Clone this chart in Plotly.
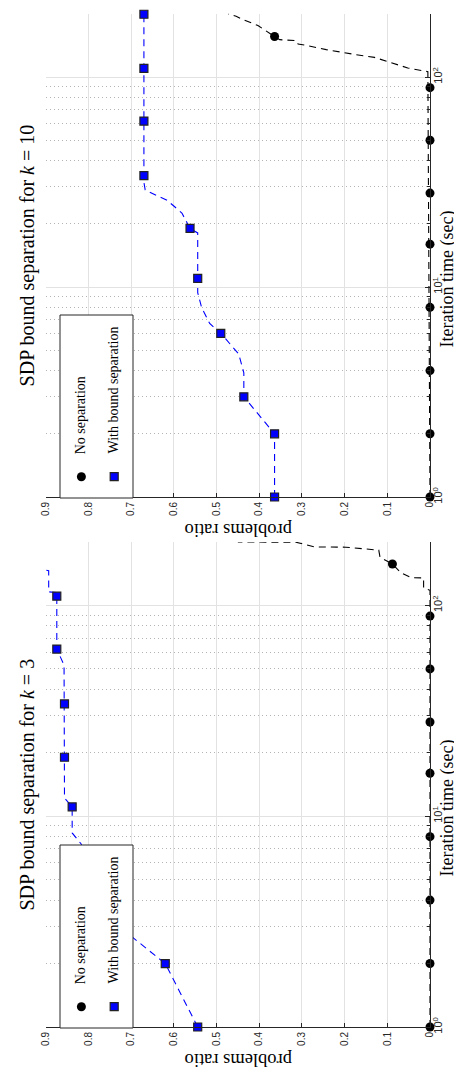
import math
import plotly.graph_objects as go

W, H = 462, 1069

# ---------------- data ----------------
ratio_ticks = [0.9, 0.8, 0.7, 0.6, 0.5, 0.4, 0.3, 0.2, 0.1, 0.0]
ratio_ticktext = ["0.9", "0.8", "0.7", "0.6", "0.5", "0.4", "0.3", "0.2", "0.1", "0"]
time_ticks = [1, 10, 100]
time_ticktext = ["10<sup>0</sup>", "10<sup>1</sup>", "10<sup>2</sup>"]
time_minor = [2, 3, 4, 5, 6, 7, 8, 9, 20, 30, 40, 50, 60, 70, 80, 90, 200]

series_names = ["No separation", "With bound separation"]
panel_titles = ["SDP bound separation for <i>k</i> = 10",
                "SDP bound separation for <i>k</i> = 3"]
x_label = "Iteration time (sec)"
y_label = "problems ratio"

# k = 10 : with bound separation (line)
k10_sep_t = [1, 2.0, 3.0, 3.9, 4.8, 6.02, 6.7, 8.0, 9.4, 11.0, 18.1, 19.0,
             22.5, 24.3, 25.9, 27.1, 29.0, 31.5, 33.9, 62, 110, 200]
k10_sep_r = [0.364, 0.364, 0.436, 0.436, 0.448, 0.490, 0.516, 0.535, 0.544, 0.544,
             0.544, 0.562, 0.581, 0.600, 0.616, 0.637, 0.667, 0.670, 0.670, 0.670,
             0.670, 0.670]
# k = 10 : with bound separation (markers)
k10_sep_mt = [1, 2, 3, 6.02, 11.0, 19.0, 33.9, 61.7, 110, 199]
k10_sep_mr = [0.364, 0.364, 0.436, 0.490, 0.544, 0.562, 0.670, 0.670, 0.670, 0.670]
# k = 10 : no separation (line)
k10_no_t = [1, 106, 110.4, 118.8, 124, 127.7, 135, 141, 143.6, 149, 150.6, 155.6,
            171, 176, 187.5, 194.5, 200]
k10_no_r = [0.0, 0.005, 0.052, 0.098, 0.130, 0.173, 0.243, 0.286, 0.309, 0.313,
            0.352, 0.364, 0.395, 0.403, 0.438, 0.454, 0.473]
# k = 10 : no separation (markers)
k10_no_mt = [1, 2, 4, 8, 16, 28, 50, 89, 156]
k10_no_mr = [0, 0, 0, 0, 0, 0, 0, 0, 0.364]

# k = 3 : with bound separation (line)
k3_sep_t = [1, 2.0, 2.77, 3.0, 6.0, 7.39, 8.33, 11.07, 12.2, 19.05, 34.1, 52.1,
            62.1, 110.7, 115, 116, 146, 152]
k3_sep_r = [0.544, 0.620, 0.707, 0.720, 0.800, 0.817, 0.838, 0.838, 0.856, 0.856,
            0.856, 0.857, 0.874, 0.874, 0.874, 0.893, 0.893, 0.930]
# k = 3 : with bound separation (markers)
k3_sep_mt = [1, 2.0, 3.0, 6.0, 11.07, 19.05, 34.1, 62.1, 110.7]
k3_sep_mr = [0.544, 0.620, 0.720, 0.800, 0.838, 0.856, 0.856, 0.874, 0.874]
# k = 3 : no separation (line)
k3_no_t = [1, 118, 121, 135, 135.5, 143, 157.3, 169, 183, 189, 189.5, 199.6, 200]
k3_no_r = [0.0, 0.0, 0.015, 0.015, 0.044, 0.068, 0.088, 0.117, 0.120, 0.197,
           0.270, 0.314, 0.450]
# k = 3 : no separation (markers)
k3_no_mt = [1, 2, 4, 8, 16, 28, 50, 89, 157.3]
k3_no_mr = [0, 0, 0, 0, 0, 0, 0, 0, 0.088]

# ---------------- layout geometry (pixels) ----------------
PL, PR = 37.7, 422.0
panels = [  # (top px, bottom px)
    (5.8, 489.0),
    (534.0, 1019.0),
]


def fx(p):
    return p / W


def fy(p):
    return 1 - p / H


BLUE = "#0000ff"
DARK = "#262626"
SERIF = "Liberation Serif"
SANS = "Liberation Sans"
DASH = "7px,5px"

fig = go.Figure()

panel_data = [
    (k10_no_t, k10_no_r, k10_no_mt, k10_no_mr, k10_sep_t, k10_sep_r, k10_sep_mt, k10_sep_mr),
    (k3_no_t, k3_no_r, k3_no_mt, k3_no_mr, k3_sep_t, k3_sep_r, k3_sep_mt, k3_sep_mr),
]

shapes = []
annotations = []

for i, (data, (top, bot)) in enumerate(zip(panel_data, panels)):
    xa = "x" if i == 0 else "x2"
    ya = "y" if i == 0 else "y2"
    no_t, no_r, no_mt, no_mr, sep_t, sep_r, sep_mt, sep_mr = data

    fig.add_trace(go.Scatter(x=no_r, y=no_t, mode="lines", xaxis=xa, yaxis=ya,
                             line=dict(color="black", width=1.1, dash=DASH),
                             showlegend=False, hoverinfo="skip"))
    fig.add_trace(go.Scatter(x=no_mr, y=no_mt, mode="markers", xaxis=xa, yaxis=ya,
                             marker=dict(symbol="circle", size=9, color="black"),
                             cliponaxis=False, showlegend=False))
    fig.add_trace(go.Scatter(x=sep_r, y=sep_t, mode="lines", xaxis=xa, yaxis=ya,
                             line=dict(color=BLUE, width=1.1, dash=DASH),
                             showlegend=False, hoverinfo="skip"))
    fig.add_trace(go.Scatter(x=sep_mr, y=sep_mt, mode="markers", xaxis=xa, yaxis=ya,
                             marker=dict(symbol="square", size=8, color=BLUE,
                                         line=dict(color="#222222", width=1.2)),
                             cliponaxis=False, showlegend=False))

    xdict = dict(range=[0.9, 0.0], tickmode="array", tickvals=ratio_ticks,
                 ticktext=ratio_ticktext, tickangle=-90, ticks="inside", ticklen=4,
                 tickcolor=DARK, showline=True, linecolor=DARK, linewidth=1,
                 showgrid=True, gridcolor="#e2e2e2", gridwidth=1.3, zeroline=False,
                 tickfont=dict(family=SANS, size=10, color=DARK),
                 domain=[fx(PL), fx(PR)], anchor=ya, side="bottom", fixedrange=True)
    ydict = dict(type="log", range=[0, math.log10(200)], tickmode="array",
                 tickvals=time_ticks, ticktext=time_ticktext, tickangle=-90,
                 ticks="inside", ticklen=5, tickcolor=DARK, showline=True,
                 linecolor=DARK, linewidth=1, showgrid=True, gridcolor="#e2e2e2",
                 gridwidth=1.3, zeroline=False, side="right", anchor=xa,
                 tickfont=dict(family=SANS, size=11, color=DARK), ticklabelstandoff=-2,
                 domain=[fy(bot), fy(top)], fixedrange=True,
                 minor=dict(tickmode="array", tickvals=time_minor, ticks="inside",
                            ticklen=3, tickcolor=DARK, showgrid=True,
                            gridcolor="#b4b4b4", griddash="1px,3px", gridwidth=1))
    if i == 0:
        fig.update_layout(xaxis=xdict, yaxis=ydict)
    else:
        fig.update_layout(xaxis2=xdict, yaxis2=ydict)

    mid = (top + bot) / 2
    # title (rotated)
    annotations.append(dict(text=panel_titles[i], x=fx(19), y=fy(mid), xref="paper",
                            yref="paper", xanchor="center", yanchor="middle",
                            textangle=-90, showarrow=False,
                            font=dict(family=SERIF, size=20, color="black")))
    # x label (iteration time)
    annotations.append(dict(text=x_label, x=fx(439), y=fy(mid + 24), xref="paper",
                            yref="paper", xanchor="center", yanchor="middle",
                            textangle=-90, showarrow=False,
                            font=dict(family=SERIF, size=18, color="black")))
    # y label (problems ratio), upside down
    annotations.append(dict(text=y_label, x=fx(231), y=fy(bot + 33), xref="paper",
                            yref="paper", xanchor="center", yanchor="middle",
                            textangle=180, showarrow=False,
                            font=dict(family=SERIF, size=18.5, color="black")))

    # legend box
    lx0, lx1 = 52, 125
    ly0, ly1 = bot - 182, bot + 1
    shapes.append(dict(type="rect", xref="paper", yref="paper", x0=fx(lx0), x1=fx(lx1),
                       y0=fy(ly1), y1=fy(ly0), fillcolor="white",
                       line=dict(color=DARK, width=1), layer="above"))
    # legend symbols
    shapes.append(dict(type="circle", xref="paper", yref="paper", xsizemode="pixel",
                       ysizemode="pixel", xanchor=fx(73.4), yanchor=fy(bot - 20.3),
                       x0=-4.5, x1=4.5, y0=-4.5, y1=4.5, fillcolor="black",
                       line=dict(color="black", width=0), layer="above"))
    shapes.append(dict(type="rect", xref="paper", yref="paper", xsizemode="pixel",
                       ysizemode="pixel", xanchor=fx(106.2), yanchor=fy(bot - 20.3),
                       x0=-4, x1=4, y0=-4, y1=4, fillcolor=BLUE,
                       line=dict(color="#222222", width=1.2), layer="above"))
    for j, (name, cx) in enumerate(zip(series_names, [72.3, 105.0])):
        annotations.append(dict(text=name, x=fx(cx), y=fy(bot - 41), xref="paper",
                                yref="paper", xanchor="center", yanchor="bottom",
                                textangle=-90, showarrow=False,
                                font=dict(family=SERIF, size=14, color="black")))

fig.update_layout(width=W, height=H, margin=dict(l=0, r=0, t=0, b=0, autoexpand=False),
                  paper_bgcolor="white", plot_bgcolor="white", showlegend=False,
                  shapes=shapes, annotations=annotations)

fig.write_html("out.html")
